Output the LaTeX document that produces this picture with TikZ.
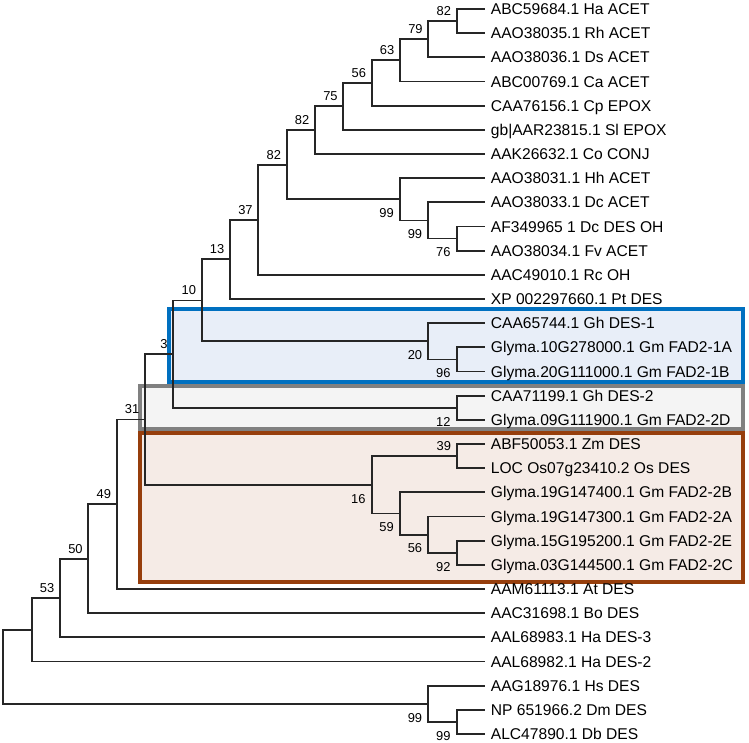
\documentclass[tikz,border=0pt]{standalone}
\usepackage{fontspec}
\setmainfont{Liberation Sans}
\usetikzlibrary{positioning}

\definecolor{bluedraw}{RGB}{0,112,192}
\definecolor{bluefill}{RGB}{232,238,248}
\definecolor{greydraw}{RGB}{128,128,128}
\definecolor{greyfill}{RGB}{244,244,244}
\definecolor{browndraw}{RGB}{150,62,12}
\definecolor{brownfill}{RGB}{245,235,230}

\begin{document}
\begin{tikzpicture}[x=1pt,y=-1pt]
		\tikzset{leaf/.style = {anchor=west, inner xsep=5.7pt, inner ysep=0pt, text height=11.2pt, text depth=0pt, font=\fontsize{15.6}{18}\selectfont}}
		\tikzset{boot/.style = {inner sep=0pt, text height=9.2pt, text depth=0pt, font=\fontsize{12.9}{15}\selectfont}}
		\tikzset{edge/.style = {draw, line width=1.8pt, black!85, to path={|- (\tikztotarget)}}}
		\tikzset{clade/.style = {line width=4pt}}
		
		\useasboundingbox (0,0) rectangle (749,743);
		
		% clade boxes
		\draw[clade, draw=bluedraw, fill=bluefill]   (168.7,309.0) rectangle (743,381.7);
		\draw[clade, draw=greydraw, fill=greyfill]   (139.5,385.7) rectangle (743,429.0);
		\draw[clade, draw=browndraw, fill=brownfill] (139.5,433.3) rectangle (743,582.0);
		
		\node[leaf]  (1) at (485,   9.0) {ABC59684.1 Ha ACET};
		\node[leaf]  (2) at (485,  33.2) {AAO38035.1 Rh ACET};
		\node[leaf]  (3) at (485,  57.3) {AAO38036.1 Ds ACET};
		\node[leaf]  (4) at (485,  81.5) {ABC00769.1 Ca ACET};
		\node[leaf]  (5) at (485, 105.7) {CAA76156.1 Cp EPOX};
		\node[leaf]  (6) at (485, 129.8) {gb|AAR23815.1 Sl EPOX};
		\node[leaf]  (7) at (485, 154.0) {AAK26632.1 Co CONJ};
		\node[leaf]  (8) at (485, 178.2) {AAO38031.1 Hh ACET};
		\node[leaf]  (9) at (485, 202.3) {AAO38033.1 Dc ACET};
		\node[leaf] (10) at (485, 226.5) {AF349965 1 Dc DES OH};
		\node[leaf] (11) at (485, 250.7) {AAO38034.1 Fv ACET};
		\node[leaf] (12) at (485, 274.8) {AAC49010.1 Rc OH};
		\node[leaf] (13) at (485, 299.0) {XP 002297660.1 Pt DES};
		\node[leaf] (14) at (485, 323.2) {CAA65744.1 Gh DES-1};
		\node[leaf] (15) at (485, 347.3) {Glyma.10G278000.1 Gm FAD2-1A};
		\node[leaf] (16) at (485, 371.5) {Glyma.20G111000.1 Gm FAD2-1B};
		\node[leaf] (17) at (485, 395.7) {CAA71199.1 Gh DES-2};
		\node[leaf] (18) at (485, 419.8) {Glyma.09G111900.1 Gm FAD2-2D};
		\node[leaf] (19) at (485, 444.0) {ABF50053.1 Zm DES};
		\node[leaf] (20) at (485, 468.2) {LOC Os07g23410.2 Os DES};
		\node[leaf] (21) at (485, 492.3) {Glyma.19G147400.1 Gm FAD2-2B};
		\node[leaf] (22) at (485, 516.5) {Glyma.19G147300.1 Gm FAD2-2A};
		\node[leaf] (23) at (485, 540.7) {Glyma.15G195200.1 Gm FAD2-2E};
		\node[leaf] (24) at (485, 564.8) {Glyma.03G144500.1 Gm FAD2-2C};
		\node[leaf] (25) at (485, 589.0) {AAM61113.1 At DES};
		\node[leaf] (26) at (485, 613.2) {AAC31698.1 Bo DES};
		\node[leaf] (27) at (485, 637.3) {AAL68983.1 Ha DES-3};
		\node[leaf] (28) at (485, 661.5) {AAL68982.1 Ha DES-2};
		\node[leaf] (29) at (485, 685.7) {AAG18976.1 Hs DES};
		\node[leaf] (30) at (485, 709.8) {NP 651966.2 Dm DES};
		\node[leaf] (31) at (485, 734.0) {ALC47890.1 Db DES};
		
		\coordinate  (i1) at (456.7,  21.1);
		\coordinate  (i2) at (428.3,  39.2);
		\coordinate  (i3) at (400.0,  60.4);
		\coordinate  (i4) at (371.7,  83.0);
		\coordinate  (i5) at (343.3, 106.4);
		\coordinate  (i6) at (315.0, 130.2);
		\coordinate  (i7) at (456.7, 238.6);
		\coordinate  (i8) at (428.3, 220.5);
		\coordinate  (i9) at (400.0, 199.3);
		\coordinate (i10) at (286.7, 164.8);
		\coordinate (i11) at (258.3, 219.8);
		\coordinate (i12) at (230.0, 259.4);
		\coordinate (i13) at (456.7, 359.4);
		\coordinate (i14) at (428.3, 341.3);
		\coordinate (i15) at (201.7, 300.4);
		\coordinate (i16) at (456.7, 407.8);
		\coordinate (i17) at (173.3, 354.1);
		\coordinate (i18) at (456.7, 456.1);
		\coordinate (i19) at (456.7, 552.8);
		\coordinate (i20) at (428.3, 534.6);
		\coordinate (i21) at (400.0, 513.5);
		\coordinate (i22) at (371.7, 484.8);
		\coordinate (i23) at (145.0, 419.5);
		\coordinate (i24) at (116.7, 504.3);
		\coordinate (i25) at ( 88.3, 558.7);
		\coordinate (i26) at ( 60.0, 598.0);
		\coordinate (i27) at ( 31.7, 629.8);
		\coordinate (i28) at (456.7, 721.9);
		\coordinate (i29) at (428.3, 703.8);
		\coordinate (i30) at (  3.3, 666.8);
		
		\draw[edge]  (i1) to  (1);
		\draw[edge]  (i1) to  (2);
		\draw[edge]  (i2) to (i1);
		\draw[edge]  (i2) to  (3);
		\draw[edge]  (i3) to (i2);
		\draw[edge]  (i3) to  (4);
		\draw[edge]  (i4) to (i3);
		\draw[edge]  (i4) to  (5);
		\draw[edge]  (i5) to (i4);
		\draw[edge]  (i5) to  (6);
		\draw[edge]  (i6) to (i5);
		\draw[edge]  (i6) to  (7);
		\draw[edge]  (i7) to (10);
		\draw[edge]  (i7) to (11);
		\draw[edge]  (i8) to  (9);
		\draw[edge]  (i8) to (i7);
		\draw[edge]  (i9) to  (8);
		\draw[edge]  (i9) to (i8);
		\draw[edge] (i10) to (i6);
		\draw[edge] (i10) to (i9);
		\draw[edge] (i11) to (i10);
		\draw[edge] (i11) to (12);
		\draw[edge] (i12) to (i11);
		\draw[edge] (i12) to (13);
		\draw[edge] (i13) to (15);
		\draw[edge] (i13) to (16);
		\draw[edge] (i14) to (14);
		\draw[edge] (i14) to (i13);
		\draw[edge] (i15) to (i12);
		\draw[edge] (i15) to (i14);
		\draw[edge] (i16) to (17);
		\draw[edge] (i16) to (18);
		\draw[edge] (i17) to (i15);
		\draw[edge] (i17) to (i16);
		\draw[edge] (i18) to (19);
		\draw[edge] (i18) to (20);
		\draw[edge] (i19) to (23);
		\draw[edge] (i19) to (24);
		\draw[edge] (i20) to (22);
		\draw[edge] (i20) to (i19);
		\draw[edge] (i21) to (21);
		\draw[edge] (i21) to (i20);
		\draw[edge] (i22) to (i18);
		\draw[edge] (i22) to (i21);
		\draw[edge] (i23) to (i17);
		\draw[edge] (i23) to (i22);
		\draw[edge] (i24) to (i23);
		\draw[edge] (i24) to (25);
		\draw[edge] (i25) to (i24);
		\draw[edge] (i25) to (26);
		\draw[edge] (i26) to (i25);
		\draw[edge] (i26) to (27);
		\draw[edge] (i27) to (i26);
		\draw[edge] (i27) to (28);
		\draw[edge] (i28) to (30);
		\draw[edge] (i28) to (31);
		\draw[edge] (i29) to (29);
		\draw[edge] (i29) to (i28);
		\draw[edge] (i30) to (i27);
		\draw[edge] (i30) to (i29);
		
		% bootstrap values
		\tikzset{up/.style = {boot, above left=5.4pt and 5.5pt of #1}}
		\tikzset{down/.style = {boot, below left=8.9pt and 6pt of #1}}
		\node[up=i1]    (b1) {82};
		\node[up=i2]    (b2) {79};
		\node[up=i3]    (b3) {63};
		\node[up=i4]    (b4) {56};
		\node[up=i5]    (b5) {75};
		\node[up=i6]    (b6) {82};
		\node[down=i7]  (b7) {76};
		\node[down=i8]  (b8) {99};
		\node[down=i9]  (b9) {99};
		\node[up=i10]  (b10) {82};
		\node[up=i11]  (b11) {37};
		\node[up=i12]  (b12) {13};
		\node[down=i13] (b13) {96};
		\node[down=i14] (b14) {20};
		\node[up=i15]  (b15) {10};
		\node[down=i16] (b16) {12};
		\node[up=i17]  (b17) {3};
		\node[up=i18]  (b18) {39};
		\node[down=i19] (b19) {92};
		\node[down=i20] (b20) {56};
		\node[down=i21] (b21) {59};
		\node[down=i22] (b22) {16};
		\node[up=i23]  (b23) {31};
		\node[up=i24]  (b24) {49};
		\node[up=i25]  (b25) {50};
		\node[up=i26]  (b26) {53};
		\node[down=i28] (b28) {99};
		\node[down=i29] (b29) {99};
\end{tikzpicture}
\end{document}
